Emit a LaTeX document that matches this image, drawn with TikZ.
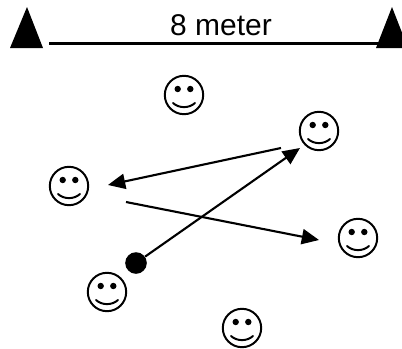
\documentclass[tikz,border=0pt]{standalone}
\usepackage{fontspec}
\setmainfont{Liberation Sans}
\usetikzlibrary{arrows.meta}

\begin{document}
\begin{tikzpicture}
    [x=0.025cm,y=-0.025cm,
    pass line/.style={line width=1.5pt,-{Triangle[length=0.43cm,width=0.38cm]}},
    smiley/.style={circle,draw,line width=1.4pt,minimum size=0.96cm,inner sep=0pt,
        path picture={
            \begin{scope}[shift={(path picture bounding box.center)}]
            \fill (-6.3,-6) circle (3.2);
            \fill (6.3,-6) circle (3.2);
            \draw[line width=1.4pt,line cap=round] (-11,8) .. controls (-5,13.5) and (5,13.5) .. (11,8);
            \end{scope}}},
    cone/.style={fill=black},
    ]

    \useasboundingbox (0,0) rectangle (402,349);

    %cones
    \fill[cone] (27,7) -- (43,48) -- (10,48) -- cycle;
    \fill[cone] (392,7) -- (408,48) -- (376,48) -- cycle;
    \coordinate (LineStart) at (49,43.5);
    \coordinate (LineEnd) at (378,43.5);
    \draw[line width=1.5pt] (LineStart) -- (LineEnd);
    \node (Distance) at (221,25.5) {\fontsize{21.3}{25}\selectfont 8 meter};

    %players
    \node[smiley] (PlayerTop) at (184,95) {};
    \node[smiley] (PlayerRight) at (319,131) {};
    \node[smiley] (PlayerLeft) at (69,186) {};
    \node[smiley] (PlayerFar) at (358,238) {};
    \node[smiley] (PlayerBall) at (107,292) {};
    \node[smiley] (PlayerBottom) at (242,328) {};

    %ball
    \node[circle,fill,minimum size=0.54cm,inner sep=0pt] (Ball) at (136,263) {};

    %passes
    \coordinate (PassOneEnd) at (300,148);
    \coordinate (PassTwoStart) at (281,148);
    \coordinate (PassTwoEnd) at (108,185);
    \coordinate (PassThreeStart) at (126,202);
    \coordinate (PassThreeEnd) at (319,240);
    \draw[pass line] (Ball) -- (PassOneEnd);
    \draw[pass line] (PassTwoStart) -- (PassTwoEnd);
    \draw[pass line] (PassThreeStart) -- (PassThreeEnd);

\end{tikzpicture}
\end{document}
